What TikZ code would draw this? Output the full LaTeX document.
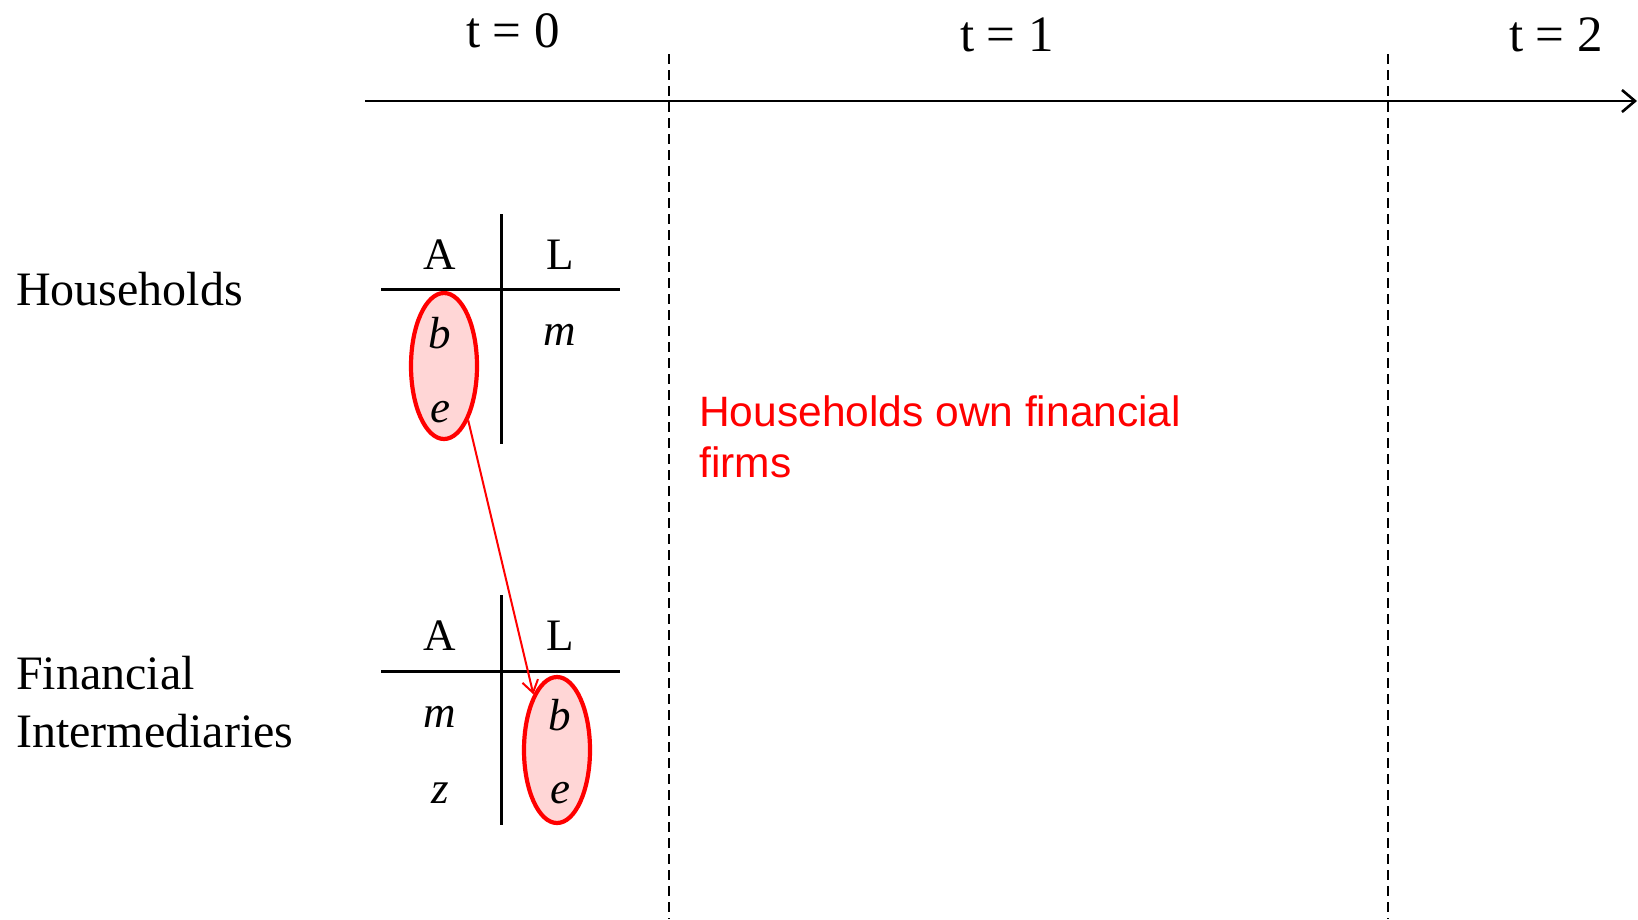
\documentclass[tikz,border=0pt]{standalone}
\usepackage{fontspec}
\setmainfont{Liberation Serif}
\newfontfamily\redsans{Liberation Sans}
\usetikzlibrary{shapes.geometric,arrows.meta}
\begin{document}
\begin{tikzpicture}[x=1pt,y=-1pt,
  lbl/.style={inner sep=0pt,font=\fontsize{48}{58}\selectfont},
  tlbl/.style={inner sep=0pt,font=\fontsize{51}{60}\selectfont},
  cell/.style={inner sep=0pt,font=\fontsize{45}{52}\selectfont},
  icell/.style={inner sep=0pt,font=\fontsize{45}{52}\selectfont\itshape},
  tline/.style={line width=3pt},
  vdash/.style={line width=2pt,dash pattern=on 10pt off 6pt},
  oval/.style={ellipse,draw=red,line width=4.2pt,fill=red!16,minimum width=66pt,minimum height=146pt,inner sep=0pt},
  redarrow/.style={draw=red,line width=2pt,-{Straight Barb[length=12pt,width=16pt,line width=2pt]}}
]
\useasboundingbox (0,0) rectangle (1638,919);
% ellipses first (behind text)
\node[oval] (hh) at (444,366) {};
\node[oval] (fi) at (557,750) {};
% timeline
\coordinate (axL) at (365,101);
\coordinate (axR) at (1637,101);
\draw[line width=2.8pt,-{Straight Barb[length=13pt,width=22pt,line width=2.6pt]}] (axL) -- (axR);
\coordinate (d1t) at (669,54); \coordinate (d1b) at (669,919);
\coordinate (d2t) at (1388,54); \coordinate (d2b) at (1388,919);
\draw[vdash] (d1t) -- (d1b);
\draw[vdash] (d2t) -- (d2b);
\node[tlbl] (t0) at (513,31) {t = 0};
\node[tlbl] (t1) at (1007,35) {t = 1};
\node[tlbl] (t2) at (1556,35) {t = 2};
% labels
\node[lbl,anchor=west] (hlab) at (16,289) {Households};
\node[lbl,anchor=west] (flab1) at (16,673) {Financial};
\node[lbl,anchor=west] (flab2) at (16,731) {Intermediaries};
% household balance sheet
\coordinate (hvt) at (501,214); \coordinate (hvb) at (501,444);
\coordinate (hhl) at (381,289); \coordinate (hhr) at (620,289);
\draw[tline] (hvt) -- (hvb);
\draw[tline] (hhl) -- (hhr);
\node[cell] (hA) at (440,255) {A};
\node[cell] (hL) at (560,255) {L};
\node[icell] (hb) at (440,333) {b};
\node[icell] (hm) at (560,335) {m};
\node[icell] (he) at (440,412) {e};
% FI balance sheet
\coordinate (fvt) at (501,595); \coordinate (fvb) at (501,825);
\coordinate (fhl) at (381,671); \coordinate (fhr) at (620,671);
\draw[tline] (fvt) -- (fvb);
\draw[tline] (fhl) -- (fhr);
\node[cell] (fA) at (440,636) {A};
\node[cell] (fL) at (560,636) {L};
\node[icell] (fm) at (440,717) {m};
\node[icell] (fz) at (440,793) {z};
\node[icell] (fb) at (560,715) {b};
\node[icell] (fe) at (560,793) {e};
% arrow
\draw[redarrow] (hh.-66) -- (fi.113);
% red text
\node[inner sep=0pt,anchor=west,text=red,font=\redsans\fontsize{42.5}{52}\selectfont] (note1) at (699,411) {Households own financial};
\node[inner sep=0pt,anchor=west,text=red,font=\redsans\fontsize{42.5}{52}\selectfont] (note2) at (699,462) {firms};
\end{tikzpicture}
\end{document}
